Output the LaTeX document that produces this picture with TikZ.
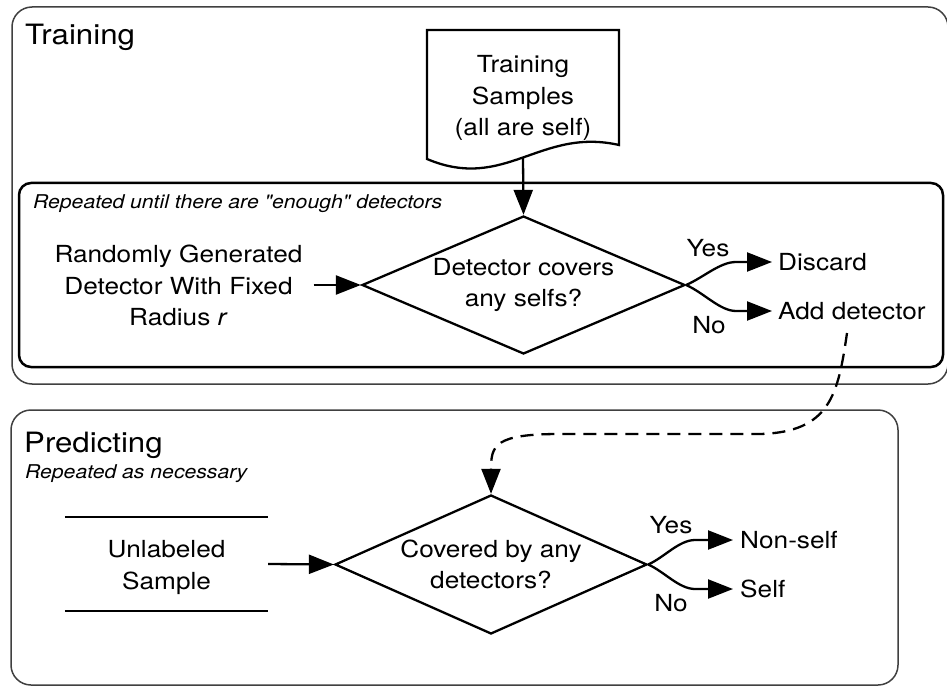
\documentclass[tikz,border=0pt]{standalone}
\usepackage{fontspec}
\setmainfont{TeX Gyre Heros}[FakeStretch=1.115, Ligatures=TeXOff]
\usetikzlibrary{arrows.meta,shapes.geometric}

\tikzset{
  every node/.style={font=\fontsize{23.5pt}{31.5pt}\selectfont, inner sep=0pt},
  phasetitle/.style={font=\fontsize{28pt}{34pt}\selectfont, anchor=base west},
  note/.style={font=\fontsize{19pt}{23pt}\selectfont\itshape, anchor=base west},
  phaseframe/.style={draw=black!75, line width=1.5pt, rounded corners=20pt, fill=white},
  loopframe/.style={draw=black, line width=2.5pt, rounded corners=12pt},
  edge/.style={line width=2.3pt},
  arr/.style={line width=2.3pt, -{Triangle[length=25pt,width=19pt]}},
  link/.style={arr, dash pattern=on 13pt off 8pt},
  decision/.style={diamond, draw, line width=2.3pt, inner sep=0pt},
  multiline/.style={align=center},
  outcome/.style={anchor=west}
}

\begin{document}
\begin{tikzpicture}[x=1pt,y=-1pt]
\useasboundingbox (0,0) rectangle (947,687);
\fill[white] (0,0) rectangle (947,687);

% ---------- training phase ----------
\draw[phaseframe] (12,7) rectangle (948,384);
\draw[loopframe] (19,183) rectangle (943,367);

\node[phasetitle] (traintitle) at (25,45) {Training};
\node[note] (loopnote) at (33,208) {Repeated until there are "enough" detectors};

% document shape holding the self samples
\draw[edge, line join=miter] (427,159) -- (427,30) -- (619,30) -- (619,145)
  .. controls (540,127) and (505,192) .. cycle;
\node[multiline] (samples) at (523,98) {Training\\Samples\\(all are self)};
\coordinate (docbottom) at (523,158);

\node[decision, minimum width=323pt, minimum height=138pt] (covers) at (523.5,285) {};
\node[multiline] (coverstext) at (covers.center) {Detector covers\\any selfs?};

\node[multiline] (gen) at (178.5,285.5) {Randomly Generated\\Detector With Fixed\\Radius \textit{r}};

\node[outcome] (discard) at (778,262) {Discard};
\node[outcome] (adddet) at (778,311) {Add detector};
\node[anchor=base] (yes1) at (708,256) {Yes};
\node[anchor=base] (no1) at (709,333) {No};

\draw[arr] (docbottom) -- (covers.north);
\draw[arr] ([xshift=11pt]gen.east |- covers.west) -- (covers.west);
\draw[arr] (covers.east) .. controls +(18,-8) and +(-16,0) .. ([xshift=-42pt]discard.west)
  -- ([xshift=-6pt]discard.west);
\draw[arr] (covers.east) .. controls +(18,8) and +(-16,0) .. ([xshift=-42pt]adddet.west)
  -- ([xshift=-6pt]adddet.west);

% ---------- prediction phase ----------
\draw[phaseframe] (11,410) rectangle (898,685);

\node[phasetitle] (predtitle) at (24,452) {Predicting};
\node[note] (prednote) at (25,478) {Repeated as necessary};

% data store for the unlabeled sample
\node[minimum width=203pt, minimum height=94pt] (store) at (166.5,564) {};
\draw[edge] (store.north west) -- (store.north east)
            (store.south west) -- (store.south east);
\node[multiline, yshift=-3.5pt] (storetext) at (store.center) {Unlabeled\\Sample};

\node[decision, minimum width=312pt, minimum height=139pt] (match) at (491,564.5) {};
\node[multiline] (matchtext) at (match.center) {Covered by any\\detectors?};

\node[outcome] (nonself) at (740,540) {Non-self};
\node[outcome] (self) at (740,589) {Self};
\node[anchor=base] (yes2) at (671,533) {Yes};
\node[anchor=base] (no2) at (671,611) {No};

\draw[arr] (store.east) -- (match.west);
\draw[arr] (match.east) .. controls +(16,-7) and +(-16,0) .. ([xshift=-45pt]nonself.west)
  -- ([xshift=-7pt]nonself.west);
\draw[arr] (match.east) .. controls +(16,7) and +(-16,0) .. ([xshift=-45pt]self.west)
  -- ([xshift=-7pt]self.west);

% new detectors feed the prediction step
\coordinate (linkstart) at (847,333);
\draw[link] (linkstart) .. controls (838,395) and (830,432) .. (760,434)
  -- (560,434) .. controls (495,434) and (491,445) .. (match.north);
\end{tikzpicture}
\end{document}
